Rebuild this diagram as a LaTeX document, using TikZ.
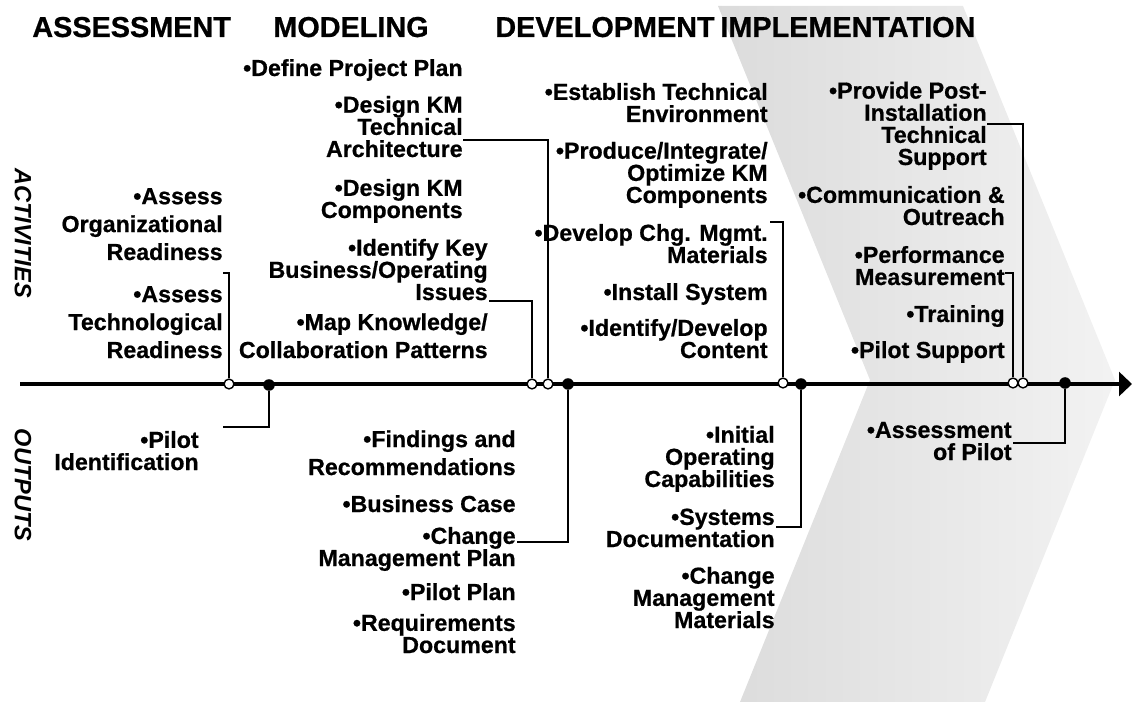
\documentclass[tikz,border=0pt]{standalone}
\usepackage{fontspec}
\setmainfont{Liberation Sans}[BoldFeatures={FakeBold=0.7}]
\usetikzlibrary{arrows.meta}

\begin{document}
\begin{tikzpicture}[x=0.02cm, y=-0.02cm,
head/.style={anchor=base west, inner sep=0pt,
    font=\bfseries\fontsize{16.4}{18}\selectfont},
side/.style={inner sep=0pt, rotate=-90,
    font=\bfseries\itshape\fontsize{13.4}{15}\selectfont},
item/.style={anchor=base east, inner sep=0pt, align=right,
    font=\bfseries\fontsize{13.2}{12.6}\selectfont},
loose/.style={item, font=\bfseries\fontsize{13.2}{15.9}\selectfont},
open/.style={circle, draw, fill=white, line width=0.8pt, inner sep=0pt, minimum size=5.6pt},
dot/.style={circle, fill=black, inner sep=0pt, minimum size=6.6pt},
link/.style={line width=0.8pt},
timeline/.style={line width=2.8pt, -{Triangle[length=7.4pt, width=13.6pt]}}]

  \useasboundingbox (0,0) rectangle (1132,702);

  \shade[left color=black!14, right color=black!5]
    (718,6) -- (963,6) -- (1115,380) -- (985,702) -- (740,702) -- (870,380) -- cycle;

  \node[head] (assess) at (32,37) {ASSESSMENT};
  \node[head] (model) at (273,37) {MODELING};
  \node[head] (devel) at (495,37) {DEVELOPMENT};
  \node[head] (impl) at (720,37) {IMPLEMENTATION};

  \node[side] (act) at (23,233) {ACTIVITIES};
  \node[side] (out) at (23,485) {OUTPUTS};

  \node[loose] (orgready) at (223,260) {•Assess\\Organizational\\Readiness};
  \node[loose] (techready) at (223,358) {•Assess\\Technological\\Readiness};
  \node[item] (pilotid) at (199,470) {•Pilot\\Identification};

  \node[item] (plan) at (463,76) {•Define Project Plan};
  \node[item] (arch) at (463,157) {•Design KM\\Technical\\Architecture};
  \node[item] (comp) at (463,218) {•Design KM\\Components};
  \node[item] (issues) at (488,300) {•Identify Key\\Business/Operating\\Issues};
  \node[loose] (patterns) at (488,358) {•Map Knowledge/\\Collaboration Patterns};

  \node[loose] (findings) at (516,475) {•Findings and\\Recommendations};
  \node[item] (bizcase) at (516,512) {•Business Case};
  \node[item] (cmplan) at (516,566) {•Change\\Management Plan};
  \node[item] (pilotplan) at (516,600) {•Pilot Plan};
  \node[item] (reqdoc) at (516,653) {•Requirements\\Document};

  \node[item] (techenv) at (768,122) {•Establish Technical\\Environment};
  \node[item] (produce) at (768,203) {•Produce/Integrate/\\Optimize KM\\Components};
  \node[item] (chgmat) at (768,263) {•Develop Chg. Mgmt.\\Materials};
  \node[item] (install) at (768,300) {•Install System};
  \node[item] (content) at (768,358) {•Identify/Develop\\Content};

  \node[item] (ioc) at (775,487) {•Initial\\Operating\\Capabilities};
  \node[item] (sysdoc) at (775,547) {•Systems\\Documentation};
  \node[item] (cmmat) at (775,628) {•Change\\Management\\Materials};

  \node[item] (support) at (987,165) {•Provide Post-\\Installation\\Technical\\Support};
  \node[item] (outreach) at (1005,225) {•Communication \&\\Outreach};
  \node[item] (perf) at (1005,285) {•Performance\\Measurement};
  \node[item] (training) at (1005,322) {•Training};
  \node[item] (pilotsup) at (1005,358) {•Pilot Support};
  \node[item] (pilotassess) at (1012,460) {•Assessment\\of Pilot};

  \coordinate (start) at (20,384);
  \coordinate (tip) at (1132,384);
  \draw[timeline] (start) -- (tip);

  \coordinate (orgtick) at (223,273);
  \coordinate (pilottick) at (223,427);
  \coordinate (issuestick) at (489,301);
  \coordinate (archtick) at (463,140);
  \coordinate (cmptick) at (517,542);
  \coordinate (chgtick) at (770,222);
  \coordinate (systick) at (776,527);
  \coordinate (posttick) at (987,124);
  \coordinate (perftick) at (1005,273);
  \coordinate (assesstick) at (1013,443);

  \node[open] (oc1) at (229,384) {};
  \node[dot] (fc1) at (269,385) {};
  \node[open] (oc2) at (532,384) {};
  \node[open] (oc3) at (548,384) {};
  \node[dot] (fc2) at (568,384) {};
  \node[open] (oc4) at (783,383) {};
  \node[dot] (fc3) at (801,384) {};
  \node[open] (oc5) at (1013,383) {};
  \node[open] (oc6) at (1023,383) {};
  \node[dot] (fc4) at (1065,383) {};

  \draw[link] (oc1) |- (orgtick);
  \draw[link] (fc1) |- (pilottick);
  \draw[link] (oc2) |- (issuestick);
  \draw[link] (oc3) |- (archtick);
  \draw[link] (fc2) |- (cmptick);
  \draw[link] (oc4) |- (chgtick);
  \draw[link] (fc3) |- (systick);
  \draw[link] (oc6) |- (posttick);
  \draw[link] (oc5) |- (perftick);
  \draw[link] (fc4) |- (assesstick);

\end{tikzpicture}
\end{document}
